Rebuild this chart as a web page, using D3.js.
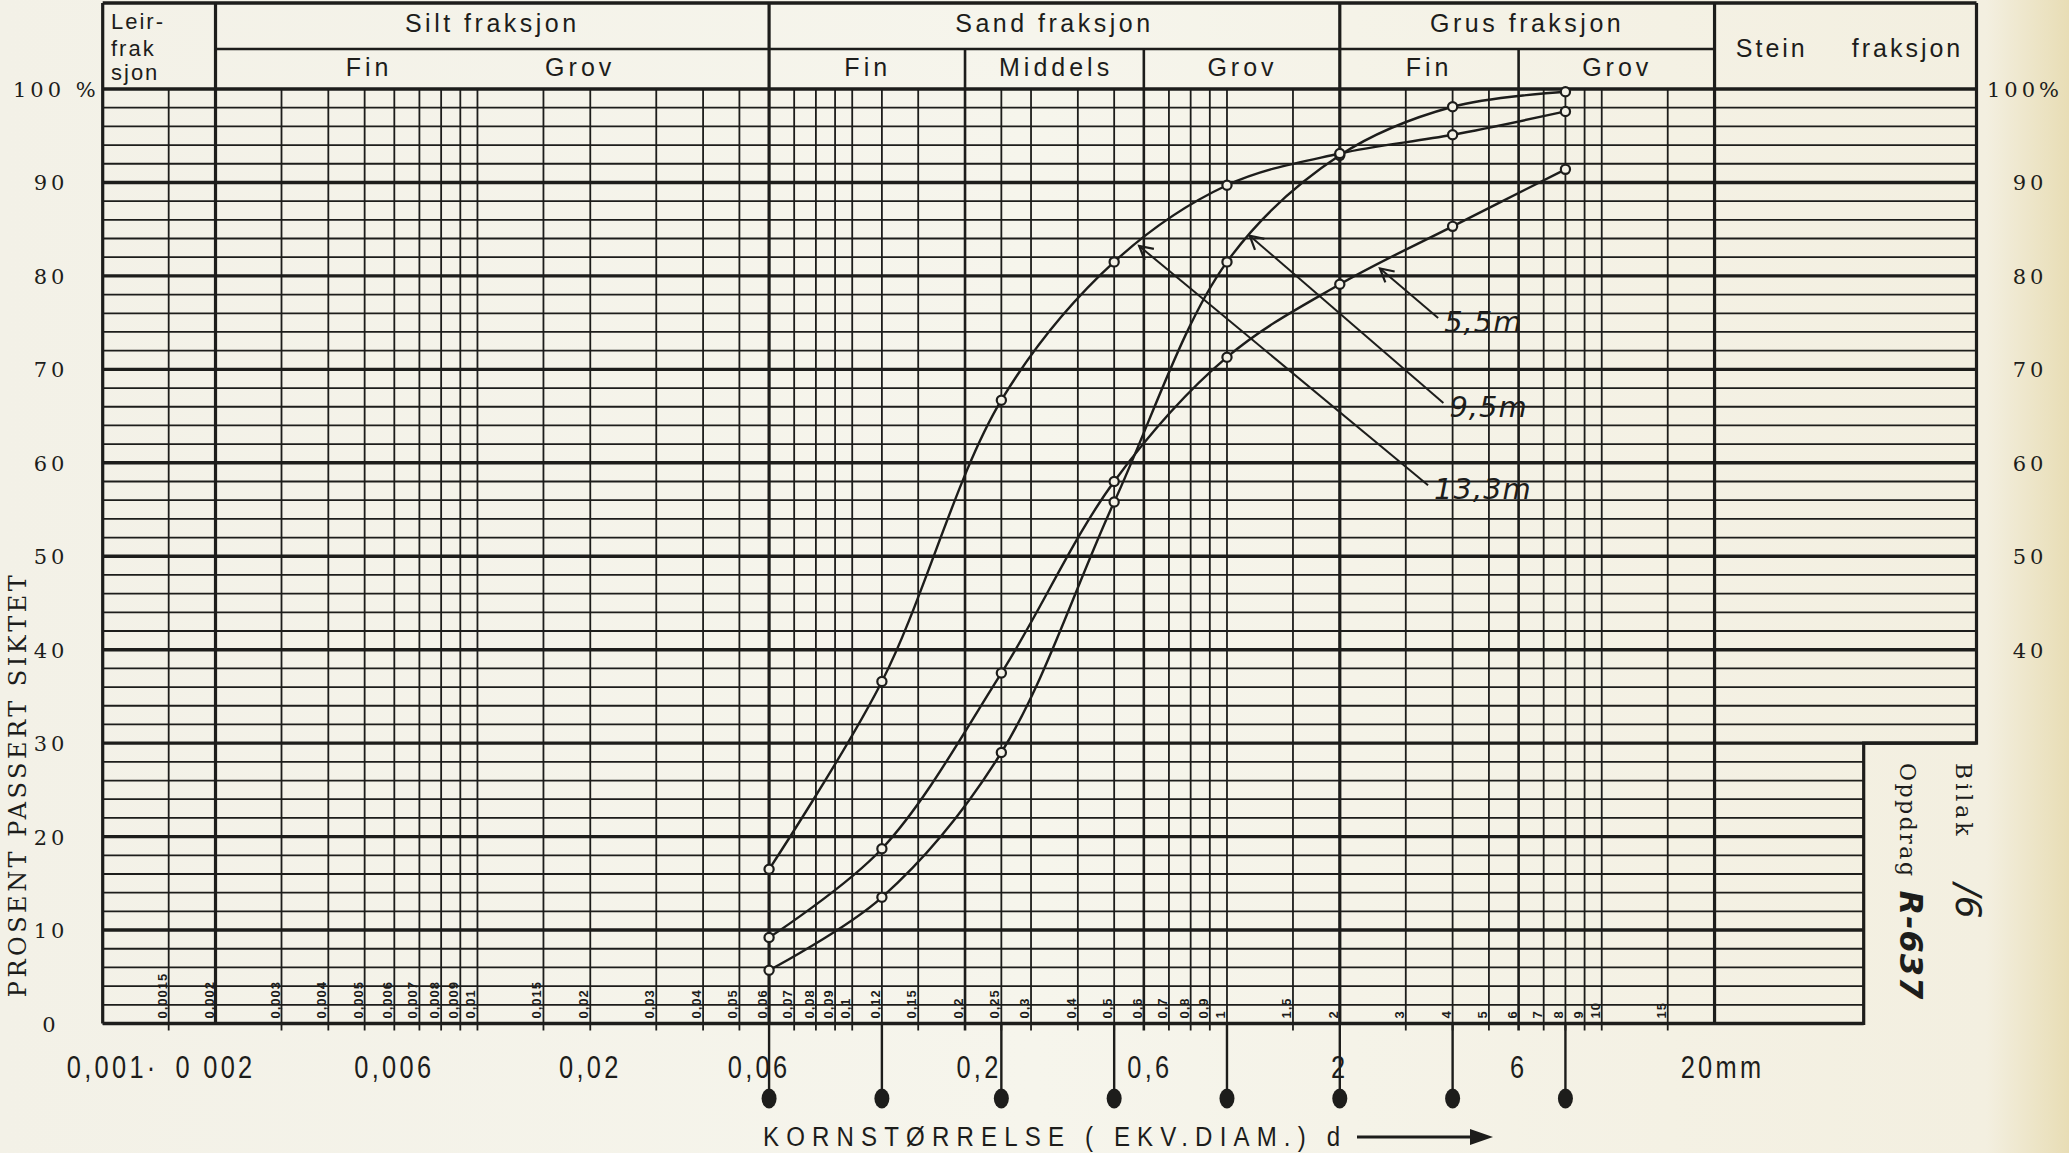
<!DOCTYPE html>
<html><head><meta charset="utf-8">
<script src="https://cdn.jsdelivr.net/npm/d3@7"></script>
<style>body{margin:0;background:#f4f2e7;overflow:hidden} svg{display:block}</style>
</head><body><svg id="c" width="2069" height="1153"></svg>
<script>
// ---- data ----
const sieveSizes = [0.06, 0.12, 0.25, 0.5, 1, 2, 4, 8];           // mm
const pass13_3 = [16.5, 36.6, 66.7, 81.5, 89.7, 93.1, 95.1, 97.6];  // % passing
const pass9_5  = [5.7, 13.5, 29.0, 55.8, 81.5, 92.9, 98.1, 99.7];
const pass5_5  = [9.2, 18.7, 37.5, 58.0, 71.3, 79.1, 85.3, 91.4];
const seriesNames = ["5,5m", "9,5m", "13,3m"];
const arrowTips    = [[2.56, 80.8], [1.15, 84.3], [0.583, 83.2]];  // (mm, %)
const leaderStarts = [[3.66, 75.5], [3.78, 66.4], [3.44, 57.6]];   // (mm, %)

const yTicksLeft  = [0, 10, 20, 30, 40, 50, 60, 70, 80, 90, 100];
const yTicksRight = [40, 50, 60, 70, 80, 90, 100];
const xTickValues = [0.001, 0.002, 0.006, 0.02, 0.06, 0.2, 0.6, 2, 6, 20];
const xTickLabels = ["0,001·", "0 002", "0,006", "0,02", "0,06", "0,2", "0,6", "2", "6", "20mm"];

const gridMajorX = [0.001, 0.002, 0.06, 2, 20];
const gridMidX   = [0.2, 0.6, 6];
const gridMinorX = [0.0015, 0.003, 0.004, 0.005, 0.006, 0.007, 0.008, 0.009, 0.01, 0.015, 0.02,
                    0.03, 0.04, 0.05, 0.07, 0.08, 0.09, 0.1, 0.12, 0.15, 0.25, 0.3, 0.4, 0.5,
                    0.7, 0.8, 0.9, 1, 1.5, 3, 4, 5, 7, 8, 9, 10, 15];

const fractionNames = ["Silt fraksjon", "Sand fraksjon", "Grus fraksjon"];
const fractionBounds = [[0.002, 0.06], [0.06, 2], [2, 20]];
const subNames  = ["Fin", "Grov", "Fin", "Middels", "Grov", "Fin", "Grov"];
const subCenters = [0.00514, 0.0188, 0.11, 0.35, 1.1, 3.46, 11];

// ---- drawing ----
const ink = "#1d1d1b", paper = "#f4f2e7";
const svg = d3.select("#c");
const defs = svg.append("defs");
const g = defs.append("linearGradient").attr("id", "bg").attr("x1", 0).attr("x2", 1).attr("y1", 0).attr("y2", 0);
g.append("stop").attr("offset", 0).attr("stop-color", "#f3f1e7");
g.append("stop").attr("offset", 0.5).attr("stop-color", "#f6f5ec");
g.append("stop").attr("offset", 0.96).attr("stop-color", "#f3efe0");
g.append("stop").attr("offset", 1).attr("stop-color", "#e8ddb5");
svg.append("rect").attr("width", 2069).attr("height", 1153).attr("fill", "url(#bg)");

const x = d3.scaleLog().domain([0.001, 100]).range([102.7, 1976.5]);
const y = d3.scaleLinear().domain([0, 100]).range([1023.5, 89]);
const topY = 3, midY = 49;

// horizontal grid
const hp = d3.range(0, 101, 2);
svg.append("g").selectAll("line").data(hp).join("line")
  .attr("x1", x(0.001)).attr("x2", d => d >= 30 ? x(100) : x(50))
  .attr("y1", d => y(d)).attr("y2", d => y(d))
  .attr("stroke", ink).attr("stroke-width", d => d % 10 === 0 ? 3.4 : 1.8);

// vertical grid
svg.append("g").selectAll("line").data(gridMinorX).join("line")
  .attr("x1", d => x(d)).attr("x2", d => x(d))
  .attr("y1", y(100)).attr("y2", y(0) + 7)
  .attr("stroke", ink).attr("stroke-width", 1.8);
svg.append("g").selectAll("line").data(gridMidX).join("line")
  .attr("x1", d => x(d)).attr("x2", d => x(d))
  .attr("y1", midY).attr("y2", y(0) + 7)
  .attr("stroke", ink).attr("stroke-width", 2.6);
svg.append("g").selectAll("line").data(gridMajorX).join("line")
  .attr("x1", d => x(d)).attr("x2", d => x(d))
  .attr("y1", topY).attr("y2", y(0))
  .attr("stroke", ink).attr("stroke-width", 3.2);

// frame
const frame = svg.append("g").attr("stroke", ink).attr("fill", "none");
frame.append("line").attr("x1", x(0.001)).attr("x2", x(100)).attr("y1", topY).attr("y2", topY).attr("stroke-width", 3.4);
frame.append("line").attr("x1", x(0.002)).attr("x2", x(20)).attr("y1", midY).attr("y2", midY).attr("stroke-width", 2.4);
frame.append("path").attr("stroke-width", 3.2)
  .attr("d", `M${x(100)},${topY} V${y(30)} H${x(50)} V${y(0)} H${x(0.001)}`);

// tiny sieve labels in bottom band
const tinyVals = gridMinorX.concat([0.002, 0.06, 0.2, 0.6, 2, 6]).filter(v => v < 20);
svg.append("g").selectAll("text").data(tinyVals).join("text")
  .attr("transform", d => `translate(${x(d) - 2},${y(0) - 5}) rotate(-90)`)
  .attr("font-family", "Liberation Sans, sans-serif")
  .attr("font-weight", "bold").attr("font-size", 13).attr("letter-spacing", 1).attr("fill", ink)
  .text(d => String(d).replace(".", ","));

// header texts
const hdrFont = "Liberation Sans, Arial, sans-serif";
const hdr = svg.append("g").attr("font-family", hdrFont).attr("fill", ink).attr("font-size", 25);
hdr.selectAll("text.f").data(fractionNames).join("text").attr("class", "f")
  .attr("x", (d, i) => (x(fractionBounds[i][0]) + x(fractionBounds[i][1])) / 2).attr("y", 32)
  .attr("text-anchor", "middle").attr("letter-spacing", 3.5).text(d => d);
hdr.selectAll("text.s").data(subNames).join("text").attr("class", "s")
  .attr("x", (d, i) => x(subCenters[i])).attr("y", 76)
  .attr("text-anchor", "middle").attr("letter-spacing", 4).text(d => d);
hdr.append("text").attr("x", (x(20) + x(100)) / 2 + 4).attr("y", 57).attr("text-anchor", "middle")
  .attr("letter-spacing", 3).attr("word-spacing", 34).text("Stein fraksjon");
["Leir-", "frak", "sjon"].forEach((t, i) => {
  hdr.append("text").attr("x", 111).attr("y", [29, 56, 80][i]).attr("font-size", 22)
    .attr("letter-spacing", 2).text(t);
});

// sieve markers
const mk = svg.append("g");
mk.selectAll("line").data(sieveSizes).join("line")
  .attr("x1", d => x(d)).attr("x2", d => x(d)).attr("y1", y(0)).attr("y2", y(0) + 72)
  .attr("stroke", ink).attr("stroke-width", 2.4);
mk.selectAll("ellipse").data(sieveSizes).join("ellipse")
  .attr("cx", d => x(d)).attr("cy", y(0) + 75).attr("rx", 7.5).attr("ry", 10).attr("fill", ink);

// curves
const seriesList = [pass5_5, pass9_5, pass13_3];
const line = d3.line().x(d => x(d[0])).y(d => y(d[1])).curve(d3.curveCatmullRom.alpha(0.5));
const cg = svg.append("g");
seriesList.forEach(s => {
  const pts = sieveSizes.map((v, i) => [v, s[i]]);
  cg.append("path").attr("d", line(pts)).attr("fill", "none").attr("stroke", ink).attr("stroke-width", 2.4);
  cg.append("g").selectAll("circle").data(pts).join("circle")
    .attr("cx", d => x(d[0])).attr("cy", d => y(d[1])).attr("r", 4.6)
    .attr("fill", paper).attr("stroke", ink).attr("stroke-width", 2.2);
});

// annotations
const ag = svg.append("g").attr("stroke", ink).attr("fill", "none");
seriesNames.forEach((name, i) => {
  const sx = x(leaderStarts[i][0]), sy = y(leaderStarts[i][1]);
  const tx = x(arrowTips[i][0]), ty = y(arrowTips[i][1]);
  ag.append("line").attr("x1", sx).attr("y1", sy).attr("x2", tx).attr("y2", ty).attr("stroke-width", 2);
  const a = Math.atan2(sy - ty, sx - tx), L = 15, sp = 0.5;
  ag.append("path").attr("stroke-width", 2.2)
    .attr("d", `M${tx + L * Math.cos(a + sp)},${ty + L * Math.sin(a + sp)} L${tx},${ty} L${tx + L * Math.cos(a - sp)},${ty + L * Math.sin(a - sp)}`);
  svg.append("text").attr("x", sx + 6).attr("y", sy + 14)
    .attr("font-family", "DejaVu Sans, sans-serif").attr("font-style", "italic")
    .attr("font-size", 29).attr("fill", ink).attr("letter-spacing", 1).text(name);
});

// y tick labels
const yFont = "DejaVu Serif, Liberation Serif, serif";
const yl = svg.append("g").attr("font-family", yFont).attr("font-size", 21).attr("fill", ink).attr("letter-spacing", 4);
yl.selectAll("text").data(yTicksLeft).join("text")
  .attr("x", d => d === 100 ? 13 : 51).attr("y", d => y(d) + 8)
  .attr("text-anchor", d => d === 100 ? "start" : "middle")
  .text(d => d === 100 ? "100 %" : d);
const yr = svg.append("g").attr("font-family", yFont).attr("font-size", 21).attr("fill", ink).attr("letter-spacing", 4);
yr.selectAll("text").data(yTicksRight).join("text")
  .attr("x", d => d === 100 ? 1987 : 2030).attr("y", d => y(d) + 8)
  .attr("text-anchor", d => d === 100 ? "start" : "middle")
  .text(d => d === 100 ? "100%" : d);

// y axis title
svg.append("text").attr("transform", `translate(26,${(y(0) + y(100)) / 2 + 230}) rotate(-90)`)
  .attr("text-anchor", "middle").attr("font-family", yFont).attr("font-size", 24).attr("fill", ink)
  .attr("textLength", 422).attr("lengthAdjust", "spacing").text("PROSENT PASSERT SIKTET");

// x tick labels (condensed look via horizontal scale)
const xLabelShift = {0: 10, 4: -10, 5: 14, 6: 6, 9: 8};
svg.append("g").selectAll("text").data(xTickValues).join("text")
  .attr("transform", (d, i) => `translate(${x(d) + (xLabelShift[i] || 0)},1078) scale(0.82,1)`)
  .attr("text-anchor", "middle")
  .attr("font-family", hdrFont).attr("font-size", 31).attr("letter-spacing", 4).attr("fill", ink)
  .text((d, i) => xTickLabels[i]);

// x axis title and arrow
svg.append("text").attr("transform", "translate(763,1146) scale(0.86,1)")
  .attr("font-family", hdrFont).attr("font-size", 28).attr("fill", ink)
  .attr("textLength", 671).attr("lengthAdjust", "spacing").text("KORNSTØRRELSE ( EKV.DIAM.) d");
svg.append("line").attr("x1", 1357).attr("x2", 1475).attr("y1", 1137).attr("y2", 1137).attr("stroke", ink).attr("stroke-width", 3);
svg.append("path").attr("d", "M1470,1129 L1493,1137 L1470,1145 Z").attr("fill", ink);

// Bilag / Oppdrag
const bl = svg.append("text").attr("transform", "translate(1956,763) rotate(90)")
  .attr("font-family", "DejaVu Serif, serif").attr("font-size", 22).attr("fill", ink).attr("letter-spacing", 4);
bl.append("tspan").text("Bilak");
bl.append("tspan").attr("dx", 44).attr("font-family", "DejaVu Sans, sans-serif").attr("font-style", "italic").attr("font-size", 36).attr("letter-spacing", 0).text("/6");
const op = svg.append("text").attr("transform", "translate(1900,763) rotate(90)")
  .attr("font-family", "DejaVu Serif, serif").attr("font-size", 22).attr("fill", ink).attr("letter-spacing", 2.5);
op.append("tspan").text("Oppdrag");
op.append("tspan").attr("dx", 12).attr("font-family", "DejaVu Sans, sans-serif").attr("font-style", "italic").attr("font-weight", "bold").attr("font-size", 32).attr("letter-spacing", 1).text("R-637");
</script></body></html>
